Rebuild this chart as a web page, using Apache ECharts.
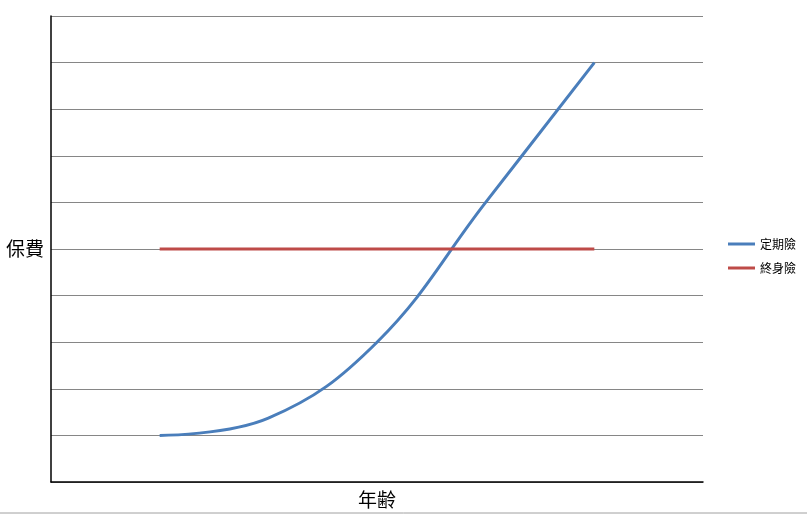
<!DOCTYPE html>
<html>
<head>
<meta charset="utf-8">
<script src="https://cdn.jsdelivr.net/npm/echarts@6/dist/echarts.min.js"></script>
<style>html,body{margin:0;padding:0;background:#fff;}#c{width:807px;height:514px;}</style>
</head>
<body>
<div id="c"></div>
<script>
var ages = [1, 2, 3, 4, 5];
var termLife = [1, 1.37, 3, 6, 9];
var wholeLife = [5, 5, 5, 5, 5];
var seriesNames = ['定期險', '終身險'];
var yName = '保費';
var xName = '年齢';

var chart = echarts.init(document.getElementById('c'));
var cjk = '"Noto Sans CJK TC", "Noto Sans CJK JP", sans-serif';
chart.setOption({
  animation: false,
  backgroundColor: '#fff',
  grid: {left: 51, top: 16, right: 104, bottom: 32, containLabel: false, outerBoundsMode: 'none'},
  legend: {
    orient: 'vertical', left: 723, top: 233,
    icon: 'rect', itemWidth: 27, itemHeight: 3, itemGap: 12,
    textStyle: {fontFamily: cjk, fontSize: 12, color: '#000'},
    data: seriesNames
  },
  xAxis: {
    type: 'value', min: 0, max: 6,
    name: xName, nameLocation: 'middle', nameGap: 8,
    nameTextStyle: {fontFamily: cjk, fontSize: 19, color: '#000'},
    axisLine: {show: true, lineStyle: {color: '#000', width: 1.5}},
    axisTick: {show: false}, axisLabel: {show: false}, splitLine: {show: false}
  },
  yAxis: {
    type: 'value', min: 0, max: 10, interval: 1,
    name: yName, nameLocation: 'middle', nameRotate: 0, nameGap: 7,
    nameTextStyle: {fontFamily: cjk, fontSize: 19, color: '#000'},
    axisLine: {show: true, lineStyle: {color: '#000', width: 1.5}},
    axisTick: {show: false}, axisLabel: {show: false},
    splitLine: {show: true, lineStyle: {color: '#868686', width: 1}}
  },
  series: [
    {name: seriesNames[0], type: 'line', smooth: 0.4, showSymbol: false,
     data: ages.map(function(a, i){ return [a, termLife[i]]; }),
     lineStyle: {color: '#4a7ebb', width: 3}, itemStyle: {color: '#4a7ebb'}},
    {name: seriesNames[1], type: 'line', showSymbol: false,
     data: ages.map(function(a, i){ return [a, wholeLife[i]]; }),
     lineStyle: {color: '#be4b48', width: 3}, itemStyle: {color: '#be4b48'}}
  ],
  graphic: [{type: 'line', shape: {x1: 0, y1: 513, x2: 807, y2: 513}, style: {stroke: '#a0a0a0', lineWidth: 1}}]
});
</script>
</body>
</html>
